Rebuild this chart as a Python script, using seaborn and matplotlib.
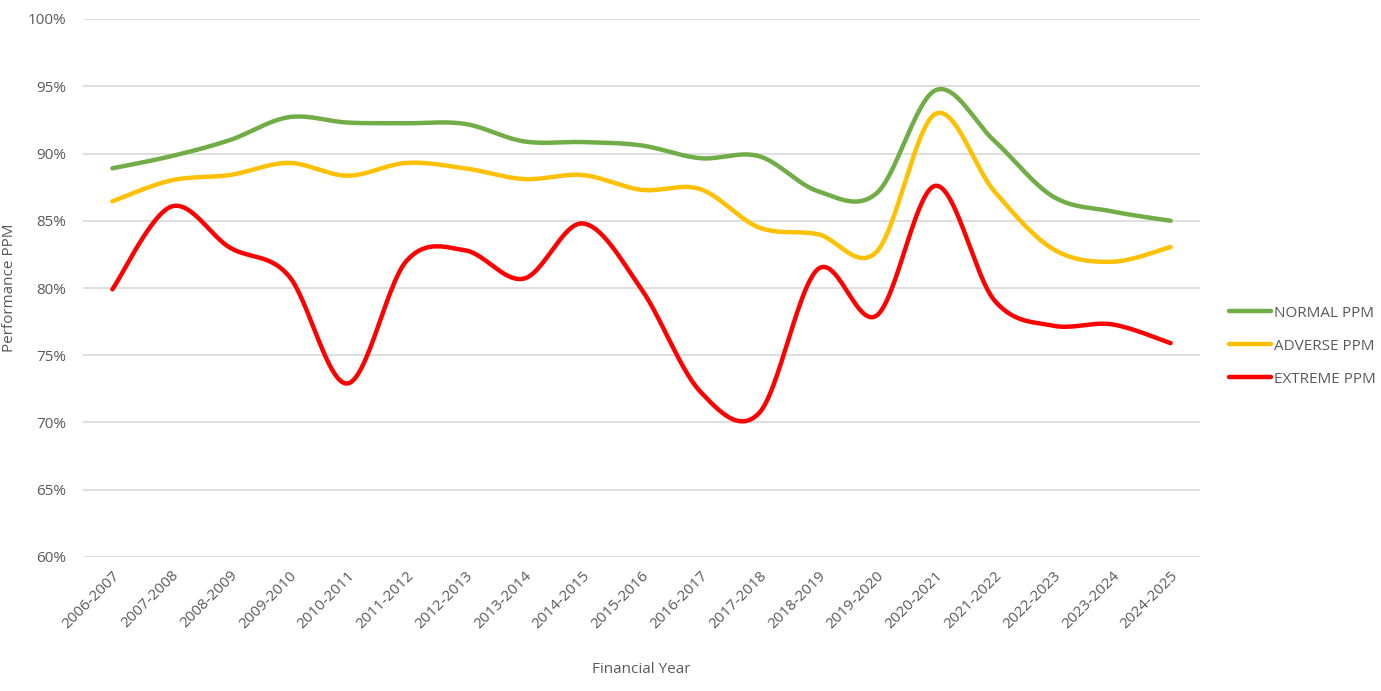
import matplotlib
matplotlib.use("Agg")
import matplotlib.pyplot as plt
import numpy as np
import pandas as pd
import seaborn as sns

# data
years = ["2006-2007", "2007-2008", "2008-2009", "2009-2010", "2010-2011", "2011-2012",
         "2012-2013", "2013-2014", "2014-2015", "2015-2016", "2016-2017", "2017-2018",
         "2018-2019", "2019-2020", "2020-2021", "2021-2022", "2022-2023", "2023-2024",
         "2024-2025"]
normal_ppm = [88.9, 89.8, 91.0, 92.7, 92.3, 92.25, 92.2, 90.9, 90.85, 90.6, 89.65, 89.8,
              87.2, 87.05, 94.7, 90.95, 86.8, 85.7, 85.0]
adverse_ppm = [86.45, 88.0, 88.4, 89.3, 88.35, 89.3, 88.9, 88.1, 88.4, 87.3, 87.35, 84.5,
               84.0, 82.7, 92.95, 87.2, 82.9, 81.95, 83.05]
extreme_ppm = [79.9, 86.05, 83.0, 80.9, 72.9, 82.0, 82.8, 80.7, 84.8, 79.9, 72.3, 70.7,
               81.4, 77.95, 87.6, 79.1, 77.2, 77.3, 75.9]

series_names = ["NORMAL PPM", "ADVERSE PPM", "EXTREME PPM"]
series_colors = ["#70AD47", "#FFC000", "#FF0000"]


def smooth_curve(xs, ys, steps=30):
    """ Excel-like smoothed line: cubic bezier through every point """
    xs = np.asarray(xs, dtype=float)
    ys = np.asarray(ys, dtype=float)
    n = len(xs)
    out_x, out_y = [], []
    t = np.linspace(0, 1, steps)
    for i in range(n - 1):
        p0 = np.array([xs[max(i - 1, 0)], ys[max(i - 1, 0)]])
        p1 = np.array([xs[i], ys[i]])
        p2 = np.array([xs[i + 1], ys[i + 1]])
        p3 = np.array([xs[min(i + 2, n - 1)], ys[min(i + 2, n - 1)]])
        c1 = p1 + (p2 - p0) / 6
        c2 = p2 - (p3 - p1) / 6
        for tt in t[:-1] if i < n - 2 else t:
            b = ((1 - tt) ** 3) * p1 + 3 * ((1 - tt) ** 2) * tt * c1 + 3 * (1 - tt) * tt ** 2 * c2 + tt ** 3 * p2
            out_x.append(b[0])
            out_y.append(b[1])
    return out_x, out_y


frames = []
for name, vals in zip(series_names, [normal_ppm, adverse_ppm, extreme_ppm]):
    sx, sy = smooth_curve(range(len(years)), vals)
    frames.append(pd.DataFrame({"x": sx, "ppm": sy, "series": name}))
df = pd.concat(frames, ignore_index=True)

sns.set_theme(style="white")
plt.rcParams["font.family"] = ["Open Sans", "DejaVu Sans"]
text_color = "#595959"

fig = plt.figure(figsize=(13.81, 6.91), dpi=100)
ax = fig.add_axes([83 / 1381, 1 - 557 / 691, (1200 - 83) / 1381, (557 - 19) / 691])

sns.lineplot(data=df, x="x", y="ppm", hue="series", hue_order=series_names,
             palette=dict(zip(series_names, series_colors)), sort=False,
             estimator=None, linewidth=3.2, ax=ax, legend=False)
for line in ax.lines:
    line.set_solid_capstyle("round")

ax.set_xlim(-0.5, len(years) - 0.5)
ax.set_ylim(60, 100)
ax.set_yticks(np.arange(60, 101, 5))
ax.set_yticklabels([f"{v}%" for v in range(60, 101, 5)], color=text_color, fontsize=11)
ax.set_xticks(range(len(years)))
ax.set_xticklabels(years, rotation=45, ha="right", rotation_mode="anchor",
                   color=text_color, fontsize=11)
ax.tick_params(axis="x", length=0, pad=8)
ax.tick_params(axis="y", length=0, pad=12)
ax.yaxis.grid(True, color="#D9D9D9", linewidth=1.2)
ax.set_axisbelow(True)
for s in ax.spines.values():
    s.set_visible(False)

ax.set_xlabel("Financial Year", color=text_color, fontsize=11, labelpad=22)
ax.set_ylabel("Performance PPM", color=text_color, fontsize=11, labelpad=8)

handles = [plt.Line2D([], [], color=c, linewidth=3.2, solid_capstyle="round") for c in series_colors]
ax.legend(handles, series_names, loc="center left", bbox_to_anchor=(1.0134, 0.392),
          frameon=False, fontsize=11, labelcolor=text_color, handlelength=2.75,
          handletextpad=0.2, labelspacing=1.18)

fig.savefig("out.png", dpi=100)
